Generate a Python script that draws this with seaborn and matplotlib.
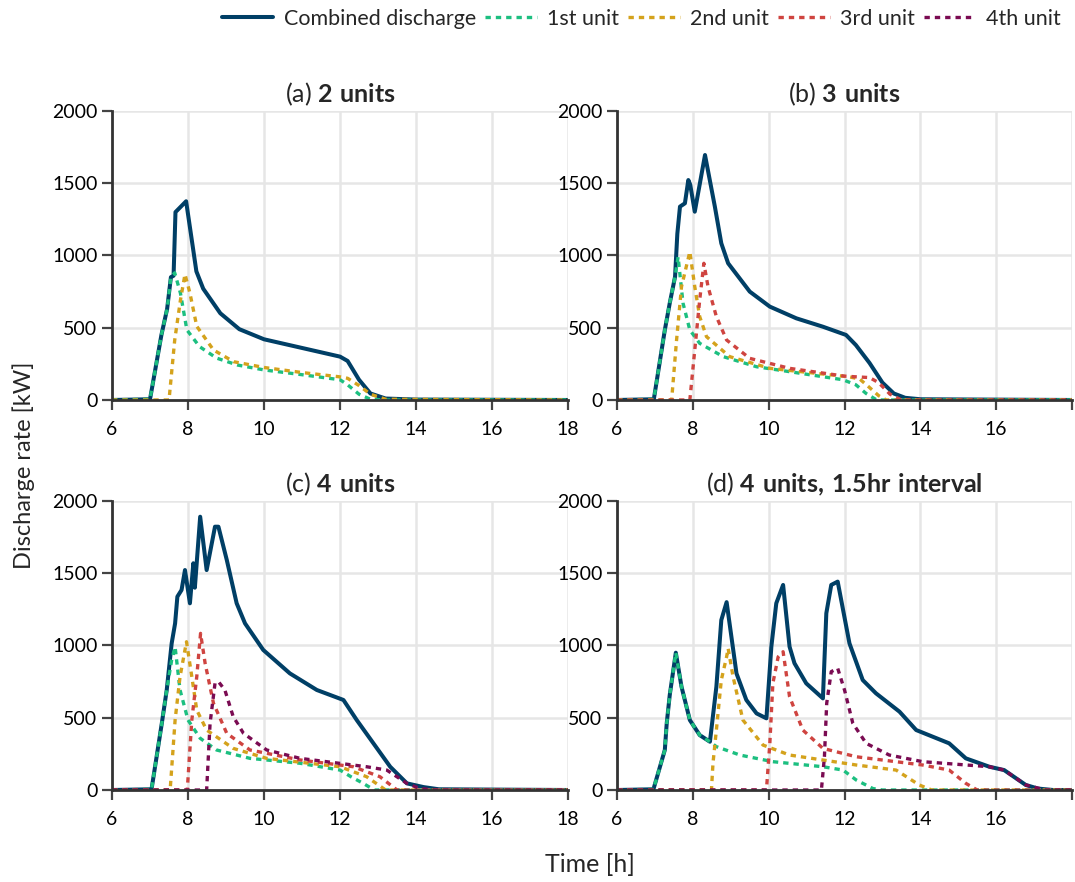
import numpy as np
import pandas as pd
import matplotlib
matplotlib.use('Agg')
import matplotlib.pyplot as plt
import seaborn as sns

# series names and colours
series_names = ['Combined discharge', '1st unit', '2nd unit', '3rd unit', '4th unit']
series_colors = ['#003f66', '#1cbf80', '#d4a21c', '#cf4440', '#7a0b52']

panel_titles = [('(a) ', '2 units'), ('(b) ', '3 units'),
                ('(c) ', '4 units'), ('(d) ', '4 units, 1.5hr interval')]

x_ticks = [6, 8, 10, 12, 14, 16, 18]
y_ticks = [0, 500, 1000, 1500, 2000]

# (a) 2 units
a_comb_t = [6, 7.0, 7.3, 7.45, 7.55, 7.62, 7.67, 7.95, 8.22, 8.4, 8.85, 9.35, 10.0, 11.0, 12.0, 12.2, 12.5, 12.8, 13.2, 14, 18]
a_comb_v = [0, 5, 450, 630, 850, 860, 1300, 1375, 890, 770, 600, 490, 420, 360, 300, 270, 140, 45, 10, 3, 0]
a_u1_t = [6, 7.0, 7.3, 7.45, 7.55, 7.65, 7.8, 7.97, 8.3, 8.75, 9.3, 10.0, 11.0, 12.0, 12.2, 12.5, 12.8, 13.2, 18]
a_u1_v = [0, 5, 450, 630, 850, 880, 740, 485, 370, 290, 242, 208, 175, 140, 105, 40, 5, 0, 0]
a_u2_t = [6, 7.5, 7.65, 7.8, 7.92, 8.05, 8.23, 8.67, 9.2, 10.0, 11.0, 12.0, 12.2, 12.5, 12.8, 13.2, 18]
a_u2_v = [0, 0, 415, 690, 870, 740, 510, 346, 265, 225, 190, 160, 150, 100, 40, 5, 0]

# (b) 3 units
b_comb_t = [6, 6.97, 7.26, 7.39, 7.53, 7.59, 7.66, 7.79, 7.88, 7.93, 8.05, 8.32, 8.58, 8.75, 8.93, 9.5, 10.03, 10.73, 11.43, 12.04, 12.3, 12.66, 13.0, 13.3, 13.6, 14, 18]
b_comb_v = [0, 5, 484, 670, 853, 1150, 1338, 1361, 1522, 1490, 1303, 1695, 1338, 1084, 946, 750, 646, 565, 507, 450, 380, 256, 120, 45, 15, 5, 0]
b_u1_t = [6, 6.97, 7.26, 7.39, 7.53, 7.61, 7.74, 7.92, 8.18, 8.8, 9.68, 10.55, 11.96, 12.3, 12.57, 12.85, 18]
b_u1_v = [0, 5, 484, 670, 853, 990, 670, 484, 392, 300, 230, 196, 140, 105, 45, 0, 0]
b_u2_t = [6, 7.44, 7.57, 7.7, 7.92, 8.05, 8.18, 8.36, 8.97, 10.03, 12.13, 12.4, 12.6, 12.9, 13.1, 18]
b_u2_v = [0, 0, 415, 784, 1026, 784, 577, 438, 300, 219, 160, 145, 100, 30, 0, 0]
b_u3_t = [6, 7.92, 8.05, 8.18, 8.29, 8.4, 8.62, 8.89, 9.5, 10.55, 12.0, 12.66, 12.9, 13.2, 13.5, 18]
b_u3_v = [0, 0, 346, 692, 946, 784, 577, 415, 288, 219, 165, 155, 120, 40, 0, 0]

# (c) 4 units
c_comb_t = [6, 7.04, 7.31, 7.44, 7.57, 7.66, 7.72, 7.83, 7.92, 8.05, 8.14, 8.18, 8.32, 8.49, 8.71, 8.8, 9.02, 9.28, 9.5, 9.98, 10.68, 11.39, 12.09, 12.44, 13.32, 13.76, 14.2, 14.6, 18]
c_comb_v = [0, 5, 461, 692, 1015, 1153, 1338, 1384, 1522, 1292, 1569, 1400, 1891, 1522, 1822, 1822, 1592, 1292, 1153, 969, 807, 692, 623, 484, 161, 46, 20, 5, 0]
c_u1_t = [6, 7.04, 7.31, 7.44, 7.57, 7.66, 7.79, 8.0, 8.32, 8.75, 9.63, 10.95, 12.0, 12.3, 12.61, 12.9, 18]
c_u1_v = [0, 5, 461, 692, 900, 990, 692, 484, 358, 277, 219, 185, 138, 90, 46, 0, 0]
c_u2_t = [6, 7.53, 7.66, 7.79, 7.96, 8.1, 8.23, 8.49, 9.19, 10.07, 12.0, 12.7, 13.2, 18]
c_u2_v = [0, 0, 484, 784, 1026, 784, 553, 415, 288, 219, 161, 92, 0, 0]
c_u3_t = [6, 7.98, 8.1, 8.23, 8.33, 8.45, 8.67, 9.02, 9.63, 10.95, 12.35, 13.05, 13.5, 18]
c_u3_v = [0, 0, 484, 784, 1084, 877, 600, 392, 277, 208, 161, 92, 0, 0]
c_u4_t = [6, 8.49, 8.58, 8.71, 8.8, 8.97, 9.19, 9.46, 10.07, 10.95, 12.7, 13.23, 13.76, 14.1, 14.5, 18]
c_u4_v = [0, 0, 461, 738, 750, 692, 507, 392, 277, 219, 161, 138, 46, 10, 0, 0]

# (d) 4 units, 1.5hr interval
d_comb_t = [6, 6.96, 7.26, 7.31, 7.39, 7.55, 7.7, 7.92, 8.18, 8.45, 8.62, 8.75, 8.89, 9.15, 9.41, 9.68, 9.94, 10.07, 10.2, 10.38, 10.55, 10.68, 10.99, 11.43, 11.52, 11.65, 11.82, 12.13, 12.48, 12.83, 13.45, 13.89, 14.76, 15.2, 15.82, 16.21, 16.78, 17.1, 17.5, 18]
d_comb_v = [0, 5, 277, 461, 657, 950, 715, 484, 380, 334, 715, 1176, 1300, 807, 623, 530, 496, 992, 1292, 1419, 992, 877, 738, 634, 1223, 1419, 1442, 1015, 761, 669, 542, 415, 323, 219, 161, 138, 35, 10, 0, 0]
d_u1_t = [6, 6.96, 7.26, 7.31, 7.39, 7.55, 7.7, 7.92, 8.18, 8.45, 8.62, 9.24, 10.11, 11.43, 11.96, 12.31, 12.75, 13.0, 18]
d_u1_v = [0, 5, 277, 461, 657, 950, 715, 484, 380, 334, 300, 242, 196, 161, 138, 69, 10, 0, 0]
d_u2_t = [6, 8.49, 8.53, 8.62, 8.75, 8.89, 8.93, 9.06, 9.32, 9.85, 10.55, 12.31, 13.36, 13.97, 14.3, 18]
d_u2_v = [0, 0, 184, 415, 761, 922, 980, 784, 484, 311, 242, 173, 138, 35, 0, 0]
d_u3_t = [6, 9.94, 10.03, 10.11, 10.25, 10.38, 10.55, 10.9, 11.43, 12.31, 14.06, 14.76, 15.2, 15.5, 18]
d_u3_v = [0, 0, 323, 738, 922, 957, 646, 415, 288, 230, 173, 138, 46, 0, 0]
d_u4_t = [6, 11.39, 11.47, 11.53, 11.65, 11.82, 12.0, 12.22, 12.57, 13.18, 14.06, 15.82, 16.21, 16.78, 17.3, 18]
d_u4_v = [0, 0, 230, 600, 819, 842, 692, 461, 323, 242, 196, 161, 138, 35, 0, 0]

panels = [
    [(a_comb_t, a_comb_v), (a_u1_t, a_u1_v), (a_u2_t, a_u2_v)],
    [(b_comb_t, b_comb_v), (b_u1_t, b_u1_v), (b_u2_t, b_u2_v), (b_u3_t, b_u3_v)],
    [(c_comb_t, c_comb_v), (c_u1_t, c_u1_v), (c_u2_t, c_u2_v), (c_u3_t, c_u3_v), (c_u4_t, c_u4_v)],
    [(d_comb_t, d_comb_v), (d_u1_t, d_u1_v), (d_u2_t, d_u2_v), (d_u3_t, d_u3_v), (d_u4_t, d_u4_v)],
]

sns.set_theme(style='ticks', rc={
    'axes.grid': True,
    'grid.color': '#e6e6e6',
    'grid.linewidth': 1.8,
    'axes.edgecolor': '#333333',
    'axes.linewidth': 2.0,
    'xtick.color': '#444444',
    'ytick.color': '#444444',
    'xtick.major.width': 1.6,
    'ytick.major.width': 1.6,
    'xtick.major.size': 7,
    'ytick.major.size': 7,
    'xtick.major.pad': 8,
    'ytick.major.pad': 3.5,
})
plt.rcParams['font.family'] = ['Lato', 'DejaVu Sans']
plt.rcParams['mathtext.fontset'] = 'custom'
plt.rcParams['mathtext.rm'] = 'Lato'
plt.rcParams['mathtext.bf'] = 'Lato:bold'

fig = plt.figure(figsize=(10.75, 8.82), dpi=100)
axes_rects = [
    [0.1042, 0.5465, 0.4242, 0.3277],
    [0.5740, 0.5465, 0.4232, 0.3277],
    [0.1042, 0.1043, 0.4242, 0.3277],
    [0.5740, 0.1043, 0.4232, 0.3277],
]

dotted = (0, (1.6, 1.5))
for i, (rect, lines) in enumerate(zip(axes_rects, panels)):
    ax = fig.add_axes(rect)
    for j, (t, v) in enumerate(lines):
        df = pd.DataFrame({'t': t, 'v': v})
        sns.lineplot(data=df, x='t', y='v', ax=ax, color=series_colors[j],
                     linewidth=2.9 if j == 0 else 2.4,
                     linestyle='-' if j == 0 else dotted,
                     label=series_names[j], legend=False)
    ax.set_xlim(6, 18)
    ax.set_ylim(0, 2000)
    ax.set_xticks(x_ticks)
    if i % 2 == 1:
        ax.set_xticklabels([str(x) for x in x_ticks[:-1]] + [''])
    ax.set_yticks(y_ticks)
    ax.tick_params(labelsize=14, colors='#444444', labelcolor='black')
    ax.set_xlabel('')
    ax.set_ylabel('')
    prefix, bold = panel_titles[i]
    bold_tex = bold.replace(' ', r'\ ').replace(',', '{,}')
    ax.set_title(prefix + r'$\mathbf{' + bold_tex + '}$', fontsize=18, pad=6)
    sns.despine(ax=ax)

# legend from the last panel (holds all five series)
handles, labels = ax.get_legend_handles_labels()
fig.legend(handles, labels, loc='center right', bbox_to_anchor=(0.997, 0.979),
           ncol=5, frameon=False, fontsize=15.5, handlelength=2.4,
           handletextpad=0.5, columnspacing=0.4, borderpad=0)

fig.text(0.022, 0.472, 'Discharge rate [kW]', rotation=90, ha='center',
         va='center', fontsize=17)
fig.text(0.549, 0.02, 'Time [h]', ha='center', va='center', fontsize=18)

fig.savefig('out.png', dpi=100)
